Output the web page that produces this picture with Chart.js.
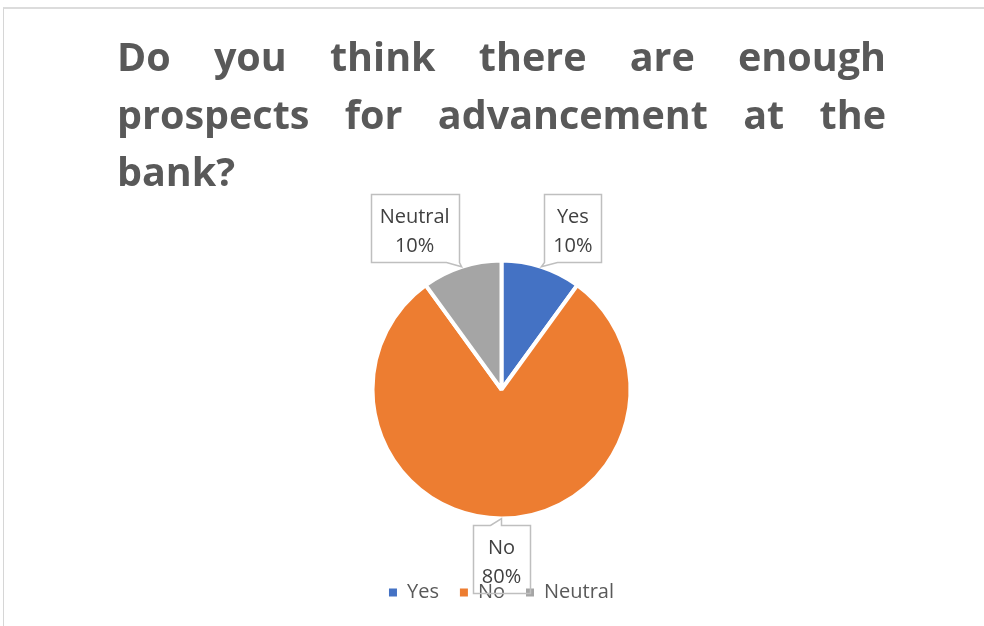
<!DOCTYPE html>
<html><head><meta charset="utf-8">
<script src="https://cdn.jsdelivr.net/npm/chart.js@4.4.1/dist/chart.umd.min.js"></script>
<style>
html,body{margin:0;padding:0;background:#fff;}
#wrap{position:relative;width:984px;height:626px;overflow:hidden;background:#fff;}
#frame{position:absolute;left:3px;top:7px;width:2000px;height:2000px;border:1px solid #d6d6d6;border-top:2px solid #dcdcdc;}
#title{position:absolute;left:117px;top:28px;width:769px;font-family:"Open Sans",sans-serif;font-weight:bold;font-size:39.5px;line-height:57.5px;color:#595959;text-align:justify;text-align-last:left;}
canvas{position:absolute;left:0;top:0;}
</style></head>
<body><div id="wrap"><div id="frame"></div><canvas id="c" width="984" height="626"></canvas><div id="title"></div></div>
<script>
const TITLE = "Do you think there are enough prospects for advancement at the bank?";
const categories = ["Yes", "No", "Neutral"];
const shares = [10, 80, 10];
const sliceColors = ["#4472C4", "#ED7D31", "#A5A5A5"];

document.getElementById('title').textContent = TITLE;

const calloutPlugin = {
  id: 'callouts',
  afterDatasetsDraw(chart) {
    const ctx = chart.ctx;
    const meta = chart.getDatasetMeta(0);
    const total = shares.reduce((a, b) => a + b, 0);
    ctx.save();
    ctx.font = '20px "Open Sans"';
    ctx.textAlign = 'center';
    ctx.textBaseline = 'alphabetic';
    meta.data.forEach((arc, i) => {
      const p = arc.getProps(['x', 'y', 'startAngle', 'endAngle', 'outerRadius'], true);
      const mid = (p.startAngle + p.endAngle) / 2;
      const dx = Math.cos(mid), dy = Math.sin(mid);
      const r = p.outerRadius;
      const tx = p.x + dx * r, ty = p.y + dy * r;
      const lines = [categories[i], Math.round(shares[i] / total * 100) + '%'];
      const w = Math.round(Math.max(...lines.map(s => ctx.measureText(s).width)) + 18);
      const h = 68;
      const cx = Math.abs(dx) > 0.1 ? tx + Math.sign(dx) * (w / 2 + 3) : tx;
      const left = Math.round(cx - w / 2) + 0.5;
      const right = left + w;
      const top = Math.round(dy < 0 ? ty - 5 - h : ty + 6) + 0.5;
      const bottom = top + h;
      let b1, b2;
      if (tx > right) { b1 = right - 13; b2 = right; }
      else if (tx < left) { b1 = left; b2 = left + 13; }
      else { b1 = tx - 11; b2 = tx; }
      ctx.beginPath();
      if (dy < 0) {
        ctx.moveTo(left, top);
        ctx.lineTo(right, top);
        ctx.lineTo(right, bottom);
        ctx.lineTo(b2, bottom);
        ctx.lineTo(tx, ty);
        ctx.lineTo(b1, bottom);
        ctx.lineTo(left, bottom);
        ctx.closePath();
      } else {
        ctx.moveTo(left, top);
        ctx.lineTo(b1, top);
        ctx.lineTo(tx, ty);
        ctx.lineTo(b2, top);
        ctx.lineTo(right, top);
        ctx.lineTo(right, bottom);
        ctx.lineTo(left, bottom);
        ctx.closePath();
      }
      ctx.strokeStyle = '#bfbfbf';
      ctx.lineWidth = 1.5;
      ctx.stroke();
      ctx.fillStyle = '#404040';
      ctx.fillText(lines[0], cx, top + 28);
      ctx.fillText(lines[1], cx, top + 57);
    });
    ctx.restore();
  }
};

new Chart(document.getElementById('c'), {
  type: 'pie',
  data: {
    labels: categories,
    datasets: [{
      data: shares,
      backgroundColor: sliceColors,
      borderColor: '#ffffff',
      borderWidth: 4,
      radius: 129
    }]
  },
  options: {
    responsive: false,
    animation: false,
    events: [],
    devicePixelRatio: 1,
    layout: { padding: { top: 217.5, bottom: 13.5, left: 19, right: 0 } },
    plugins: {
      title: { display: false },
      tooltip: { enabled: false },
      legend: {
        position: 'bottom',
        labels: {
          boxWidth: 8,
          boxHeight: 8,
          padding: 21,
          color: '#595959',
          font: { family: '"Open Sans"', size: 20 },
          generateLabels(chart) {
            const items = Chart.overrides.doughnut.plugins.legend.labels.generateLabels(chart);
            items.forEach(it => { it.lineWidth = 0; it.strokeStyle = 'rgba(0,0,0,0)'; });
            return items;
          }
        }
      }
    }
  },
  plugins: [calloutPlugin]
});
</script>
</body></html>
